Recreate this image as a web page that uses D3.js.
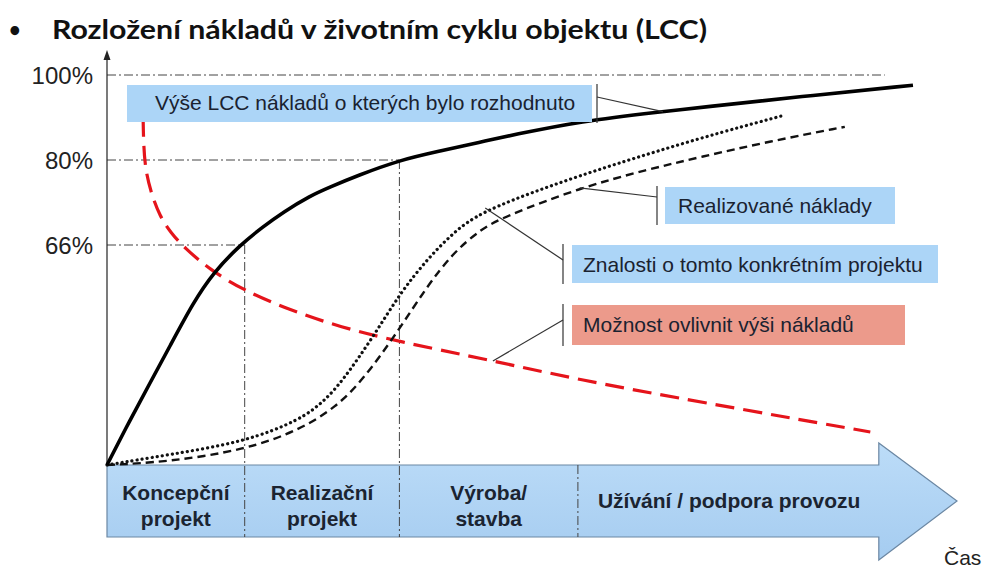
<!DOCTYPE html>
<html><head><meta charset="utf-8">
<script src="https://cdn.jsdelivr.net/npm/d3@7/dist/d3.min.js"></script>
<style>body{margin:0;background:#fff}svg{display:block}</style>
</head><body>
<script>
// ---- data ----
const title = "Rozložení nákladů v životním cyklu objektu (LCC)";
const yTicks = [66, 80, 100];
const yTickLabels = ["66%", "80%", "100%"];
const phaseBounds = [0, 16.2, 34.4, 55.4, 90.8];
const phaseLabels = [["Koncepční", "projekt"], ["Realizační", "projekt"], ["Výroba/", "stavba"], ["Užívání / podpora provozu"]];
const axisLabel = "Čas";
// cumulative committed LCC cost (%)
const lccCommitted = [[0,0],[2.71,13.5],[5.06,24.6],[7.41,35.7],[10.12,48.6],[12.47,57.6],[15.65,66],[18.35,69.0],[20.71,71.4],[23.88,74.1],[26.24,75.55],[29.41,77.4],[34.47,80],[39.18,82.1],[43.88,84.2],[47.76,85.9],[55.65,89.1],[65.41,91.4],[69.76,92.35],[81.53,94.9],[94.82,97.6]];
// knowledge of the project (%)
const knowledge = [[0,0],[7.06,3.0],[16.2,6.9],[22.7,13.5],[25.5,19],[27.8,25.5],[31.3,38.4],[34.5,51.6],[37.6,61.5],[40.7,68],[43.9,71.4],[51.8,75.6],[59.5,79.2],[69.8,85.2],[79.8,90.6]];
// realised costs (%)
const realised = [[0,0],[7.06,0.9],[16.2,4.5],[22.7,10.5],[27,17.5],[30.1,25.5],[34.1,39.6],[37.6,53.4],[40.7,63.6],[43.9,68.5],[46.6,70.6],[55.6,75.4],[63.5,78.4],[69.8,80.7],[78,84.4],[86.8,87.8]];
// possibility to influence cost (%)
const influence = [[4.25,89.9],[4.3,84],[4.5,78.5],[5.2,74.5],[6.2,70.8],[7.5,68],[9.1,65.2],[12.1,58.6],[16,52.5],[21.5,46.5],[27.4,41.4],[34.5,36.9],[43.9,32.1],[55.6,25.5],[69.8,18.9],[89.8,9.9]];
const labelTexts = ["Výše LCC nákladů o kterých bylo rozhodnuto", "Realizované náklady", "Znalosti o tomto konkrétním projektu", "Možnost ovlivnit výši nákladů"];
const labelAnchors = [[65.4, 91.4], [55.6, 75.4], [44.5, 72.1], [45.4, 31.2]];

// ---- layout ----
const W = 992, H = 569;
const svg = d3.select("body").append("svg").attr("width", W).attr("height", H);
const x = d3.scaleLinear().domain([0, 100]).range([107, 957]);
const y = d3.scaleLinear().domain([0, 66, 80, 100]).range([465, 245, 160, 75]);
const arrowTop = 465, arrowBot = 537, headTop = 443, headBot = 560;
const x0 = x(0);

// title
svg.append("text").attr("x", 9).attr("y", 37).text("•")
  .attr("font-family", "Lato, 'Noto Sans', sans-serif").attr("font-size", 20).attr("font-weight", 700).attr("fill", "#111");
svg.append("text").attr("x", 52).attr("y", 39).text(title)
  .attr("font-family", "Lato, 'Noto Sans', sans-serif").attr("font-size", 26).attr("font-weight", 700)
  .attr("fill", "#111").attr("textLength", 655).attr("lengthAdjust", "spacingAndGlyphs");

// defs
const defs = svg.append("defs");
const grad = defs.append("linearGradient").attr("id", "ag").attr("x1", 0).attr("y1", 0).attr("x2", 0).attr("y2", 1);
grad.append("stop").attr("offset", "0%").attr("stop-color", "#bcdcf8");
grad.append("stop").attr("offset", "100%").attr("stop-color", "#a5ccf0");

// time arrow
const xHead = x(phaseBounds[4]);
svg.append("path")
  .attr("d", `M${x0},${arrowTop} L${xHead},${arrowTop} L${xHead},${headTop} L${x(100)},${(arrowTop+arrowBot)/2} L${xHead},${headBot} L${xHead},${arrowBot} L${x0},${arrowBot} Z`)
  .attr("fill", "url(#ag)").attr("stroke", "#6b87a3").attr("stroke-width", 1.2);

// grid lines (dash-dot)
const dashDot = "9 3 2 3";
const gridEnds = {66: phaseBounds[1], 80: phaseBounds[2], 100: 91.5};
yTicks.forEach(t => {
  svg.append("line").attr("x1", x0).attr("x2", x(gridEnds[t])).attr("y1", y(t)).attr("y2", y(t))
    .attr("stroke", "#444").attr("stroke-width", 1).attr("stroke-dasharray", dashDot);
});
// vertical dividers
[[phaseBounds[1], 66], [phaseBounds[2], 80], [phaseBounds[3], null]].forEach(([b, t]) => {
  svg.append("line").attr("x1", x(b)).attr("x2", x(b)).attr("y1", t === null ? arrowTop : y(t)).attr("y2", arrowBot)
    .attr("stroke", "#444").attr("stroke-width", 1).attr("stroke-dasharray", dashDot);
});

// y axis
svg.append("line").attr("x1", x0).attr("x2", x0).attr("y1", arrowTop).attr("y2", 58).attr("stroke", "#222").attr("stroke-width", 1.2);
svg.append("path").attr("d", `M${x0},50 L${x0-3.5},60 L${x0+3.5},60 Z`).attr("fill", "#222");
const yAxis = d3.axisLeft(y).tickValues(yTicks).tickFormat((d, i) => yTickLabels[i]).tickSize(0).tickPadding(14);
const ga = svg.append("g").attr("transform", `translate(${x0},0)`).call(yAxis);
ga.select(".domain").remove();
ga.selectAll("text").attr("font-family", "'Liberation Sans', Arial, sans-serif").attr("font-size", 24).attr("fill", "#222").attr("dy", "0.36em");

// phase labels
const phaseFont = "'Liberation Sans', Arial, sans-serif";
phaseLabels.forEach((lines, i) => {
  const isLast = i === phaseLabels.length - 1;
  const cx = isLast ? x(phaseBounds[i]) + 20 : (x(phaseBounds[i]) + x(phaseBounds[i+1])) / 2;
  const t = svg.append("text").attr("font-family", phaseFont).attr("font-weight", 700).attr("font-size", 21)
    .attr("fill", "#1b2431").attr("text-anchor", isLast ? "start" : "middle");
  if (lines.length === 1) {
    t.append("tspan").attr("x", cx).attr("y", 508).text(lines[0]);
  } else {
    lines.forEach((l, j) => t.append("tspan").attr("x", cx).attr("y", 500 + j * 26).text(l));
  }
});

// curves
const line = d3.line().x(d => x(d[0])).y(d => y(d[1])).curve(d3.curveBasis);
svg.append("path").datum(influence).attr("d", line).attr("fill", "none")
  .attr("stroke", "#e5141b").attr("stroke-width", 3.2).attr("stroke-dasharray", "19 9");
svg.append("path").datum(realised).attr("d", line).attr("fill", "none")
  .attr("stroke", "#111").attr("stroke-width", 2.4).attr("stroke-dasharray", "8 5");
svg.append("path").datum(knowledge).attr("d", line).attr("fill", "none")
  .attr("stroke", "#111").attr("stroke-width", 3.2).attr("stroke-dasharray", "0.1 5").attr("stroke-linecap", "round");
svg.append("path").datum(lccCommitted).attr("d", line).attr("fill", "none")
  .attr("stroke", "#000").attr("stroke-width", 3.6);

// label boxes with leader lines
const boxes = [
  {x: 127, y: 85, w: 465, h: 37, fill: "#acd5f7", tick: 597, tx: 155, ty: 110, ly: 97},
  {x: 665, y: 187, w: 230, h: 37, fill: "#acd5f7", tick: 657, tx: 678, ty: 213, ly: 197},
  {x: 572, y: 245, w: 366, h: 38, fill: "#acd5f7", tick: 563, tx: 583, ty: 272, ly: 260},
  {x: 572, y: 305, w: 333, h: 40, fill: "#ec9a8b", tick: 563, tx: 583, ty: 332, ly: 320}
];
boxes.forEach((b, i) => {
  svg.append("rect").attr("x", b.x).attr("y", b.y).attr("width", b.w).attr("height", b.h).attr("fill", b.fill);
  svg.append("text").attr("x", b.tx).attr("y", b.ty).text(labelTexts[i])
    .attr("font-family", "'Liberation Sans', Arial, sans-serif").attr("font-size", 21).attr("fill", "#1a2230");
  svg.append("line").attr("x1", b.tick).attr("x2", b.tick).attr("y1", b.y - 1).attr("y2", b.y + b.h + 1)
    .attr("stroke", "#333").attr("stroke-width", 1.2);
  const a = labelAnchors[i];
  svg.append("line").attr("x1", b.tick).attr("y1", b.ly).attr("x2", x(a[0])).attr("y2", y(a[1]))
    .attr("stroke", "#333").attr("stroke-width", 1.2);
});

// time label
svg.append("text").attr("x", 944).attr("y", 565).text(axisLabel)
  .attr("font-family", "'Liberation Sans', Arial, sans-serif").attr("font-size", 21).attr("fill", "#222");
</script>
</body></html>
